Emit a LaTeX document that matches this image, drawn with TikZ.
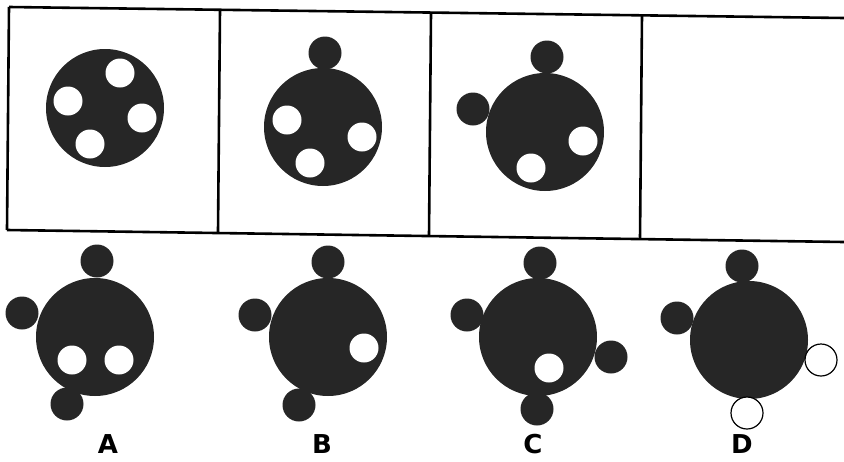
\documentclass[tikz,border=0pt]{standalone}
\usepackage{fontspec}
\setsansfont{DejaVu Sans}
\usetikzlibrary{positioning,calc}
\definecolor{Ink}{HTML}{262626}
\newcommand{\Disc}[2]{\fill[Ink] (#1,#2) circle (59pt);}
\newcommand{\Knob}[2]{\fill[Ink] (#1,#2) circle (16.5pt);}
\newcommand{\Hole}[2]{\fill[white] (#1,#2) circle (14.5pt);}
\newcommand{\Ring}[2]{\draw[black,line width=1.2pt,fill=white] (#1,#2) circle (16pt);}

\begin{document}
\begin{tikzpicture}[x=1pt,y=-1pt]
\useasboundingbox (0,0) rectangle (844,461);
% frame of the row above
\coordinate (tl) at (9,7);
\coordinate (tr) at (844,18);
\coordinate (bl) at (7,230);
\coordinate (br) at (844,242);
\draw[black,line width=2.6pt] (tl) -- (tr);
\draw[black,line width=2.6pt] (bl) -- (br);
\draw[black,line width=2.6pt] (tl) -- (bl);
\foreach \a/\b/\c/\d in {220/10/218/232,431/13/429/236,642/15/640/239} {
  \draw[black,line width=2.6pt] (\a,\b) -- (\c,\d);
}
% row above
\Disc{105}{108}
\Hole{120}{73}
\Hole{68}{101}
\Hole{142}{118}
\Hole{90}{144}
\Knob{325}{53}
\Disc{323}{127}
\Hole{287}{120}
\Hole{362}{137}
\Hole{310}{163}
\Knob{547}{57}
\Knob{473}{109}
\Disc{545}{132}
\Hole{583}{141}
\Hole{531}{168}
% answers
\Knob{97}{261}
\Knob{22}{313}
\Knob{67}{404}
\Disc{95}{337}
\Hole{72}{360}
\Hole{119}{360}
\Knob{328}{262}
\Knob{255}{315}
\Knob{299}{405}
\Disc{328}{337}
\Hole{364}{348}
\Knob{540}{263}
\Knob{467}{315}
\Knob{611}{357}
\Knob{537}{409}
\Disc{538}{337}
\Hole{549}{368}
\Knob{742}{266}
\Knob{677}{318}
\Disc{749}{340}
\Ring{821}{360}
\Ring{747}{413}
\foreach \x/\s in {108/A,322/B,533/C,742/D} {
  \node[font=\sffamily\bfseries\fontsize{26}{26}\selectfont,inner sep=0pt] (lbl\s) at (\x,444) {\s};
}
\end{tikzpicture}
\end{document}
